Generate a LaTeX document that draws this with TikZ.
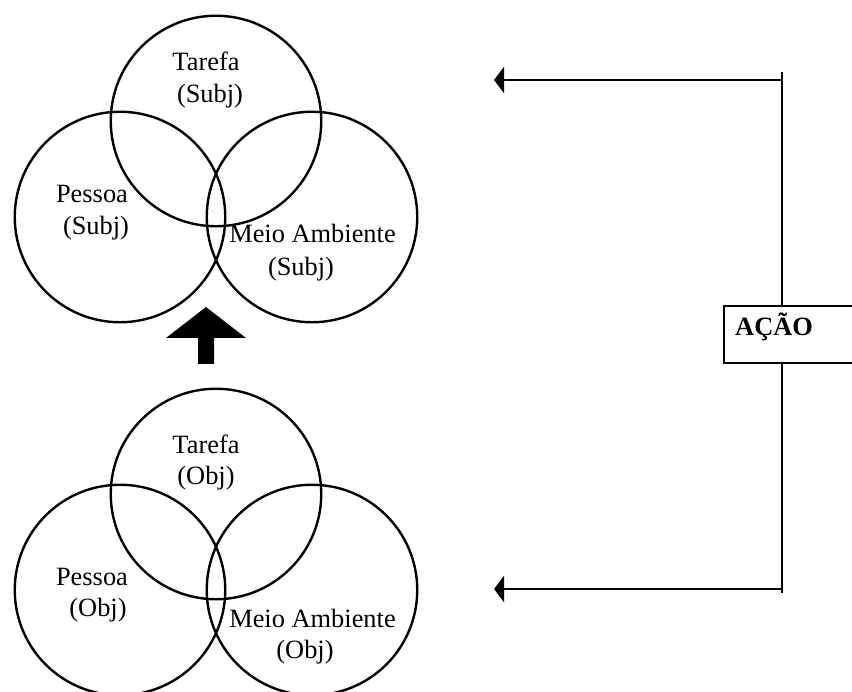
\documentclass[tikz,border=0pt]{standalone}
\usepackage{fontspec}
\setmainfont{Liberation Serif}
\usetikzlibrary{arrows.meta}
\begin{document}
\begin{tikzpicture}[x=1pt,y=-1pt,
  venn/.style={circle,draw,line width=2.4pt,minimum size=210.5pt,inner sep=0pt},
  lbl/.style={anchor=base,inner sep=0pt,font=\fontsize{26.4}{32}\selectfont},
  flow/.style={line width=2.4pt},
  tipline/.style={flow,-{Triangle[length=10pt,width=26pt]}},
  actbox/.style={draw,line width=2.4pt,minimum width=140pt,minimum height=57pt,inner sep=0pt}]
\useasboundingbox (0,0) rectangle (852,692);
\clip (0,0) rectangle (852,692);

% subjective triad
\node[venn] (tarS) at (216,121) {};
\node[venn] (pesS) at (120,217) {};
\node[venn] (meiS) at (312,217) {};
\node[lbl] (tarS1) at (206,71) {Tarefa};
\node[lbl] (tarS2) at (210,103) {(Subj)};
\node[lbl] (pesS1) at (92,203) {Pessoa};
\node[lbl] (pesS2) at (96,235) {(Subj)};
\node[lbl] (meiS1) at (312.5,243) {Meio Ambiente};
\node[lbl] (meiS2) at (301,276) {(Subj)};

% objective triad
\node[venn] (tarO) at (216,494) {};
\node[venn] (pesO) at (120,590) {};
\node[venn] (meiO) at (312,590) {};
\node[lbl] (tarO1) at (206,454) {Tarefa};
\node[lbl] (tarO2) at (206,485) {(Obj)};
\node[lbl] (pesO1) at (92,585) {Pessoa};
\node[lbl] (pesO2) at (98,616) {(Obj)};
\node[lbl] (meiO1) at (312.5,627) {Meio Ambiente};
\node[lbl] (meiO2) at (305,658) {(Obj)};

% block arrow from the objective to the subjective triad
\fill (206,307) -- (246,338) -- (214,338) -- (214,364) -- (198,364)
      -- (198,338) -- (166,338) -- cycle;

% action box and feedback lines
\node[actbox] (acao) at (794,334.5) {};
\node[anchor=base west,inner sep=0pt,font=\fontsize{26.4}{32}\selectfont\bfseries]
  (acaotxt) at (735,336) {AÇÃO};
\coordinate (vtop) at (782,72);
\coordinate (vbot) at (782,593);
\coordinate (jtop) at (782,80);
\coordinate (jbot) at (782,589);
\coordinate (ttop) at (494,80);
\coordinate (tbot) at (494,589);
\draw[flow] (vtop) -- (vtop |- acao.north);
\draw[flow] (vbot |- acao.south) -- (vbot);
\draw[tipline] (jtop) -- (ttop);
\draw[tipline] (jbot) -- (tbot);
\end{tikzpicture}
\end{document}
